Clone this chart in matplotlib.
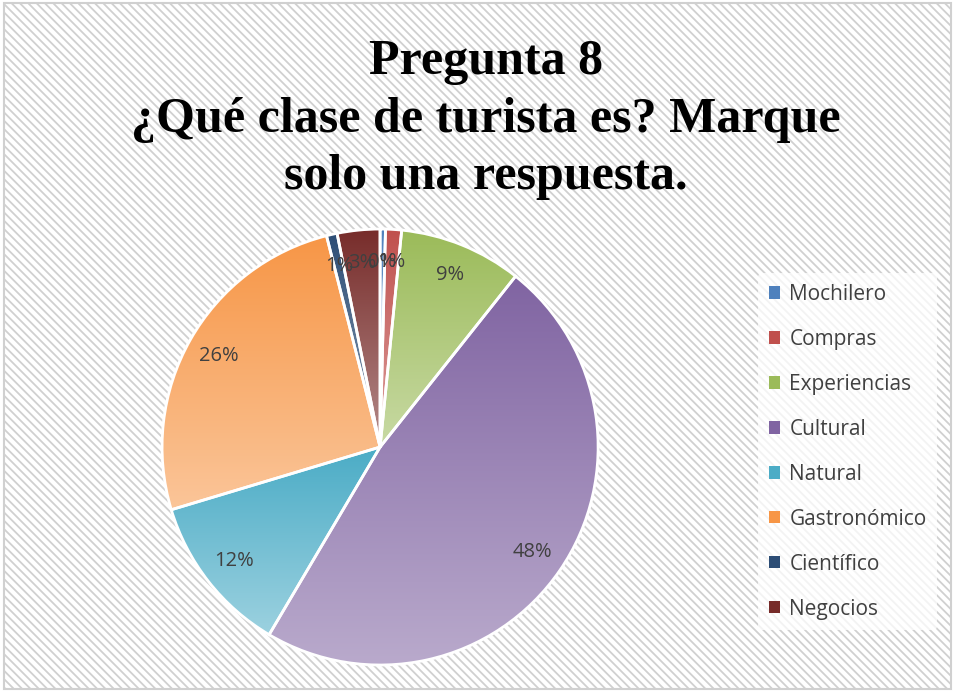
import numpy as np
import matplotlib
matplotlib.use("Agg")
import matplotlib.pyplot as plt
from matplotlib.patches import Rectangle, Patch
from matplotlib.colors import to_rgb

categorias = ["Mochilero", "Compras", "Experiencias", "Cultural",
              "Natural", "Gastronómico", "Científico", "Negocios"]
respuestas = [1, 3, 23, 121, 30, 65, 2, 8]
colores = ["#4F81BD", "#C0504D", "#9BBB59", "#8064A2",
           "#4BACC6", "#F79646", "#2C4D75", "#772C2A"]
titulo = "Pregunta 8\n¿Qué clase de turista es? Marque\nsolo una respuesta."

plt.rcParams["hatch.linewidth"] = 1.3
plt.rcParams["hatch.color"] = "#e2e2e2"

fig = plt.figure(figsize=(9.55, 6.92), dpi=100)
fig.patch.set_facecolor("white")
# fondo rayado con borde
fondo = Rectangle((0.004, 0.004), 0.992, 0.992, transform=fig.transFigure,
                  facecolor="white", edgecolor="#d0d0d0", hatch="\\\\\\\\",
                  linewidth=1.5, zorder=-5)
fig.patches.append(fondo)

fig.text(0.509, 0.943, titulo, ha="center", va="top", fontsize=36,
         fontweight="bold", family="Liberation Serif", linespacing=1.32)

ax = fig.add_axes([0.398 - 0.2283, 0.354 - 0.315, 0.4566, 0.630])
ax.set_facecolor("none")
ax.set_zorder(2)

wedges, textos, pcts = ax.pie(respuestas, colors=colores, startangle=90, counterclock=False,
                              autopct="%1.0f%%", pctdistance=0.85,
                              wedgeprops=dict(edgecolor="white", linewidth=2),
                              textprops=dict(color="#404040", fontsize=14.5, family="Open Sans"))
ax.set_aspect("equal")
ax.axis("off")

# degradado vertical dentro de cada porcion
for w, c in zip(wedges, colores):
    base = np.array(to_rgb(c))
    claro = base + (1 - base) * 0.45
    t = np.linspace(0, 1, 256)[:, None]
    grad = base[None, :] * (1 - t) + claro[None, :] * t
    img = np.repeat(grad[:, None, :], 2, axis=1)
    ext = w.get_path().get_extents(w.get_patch_transform())
    im = ax.imshow(img, extent=[ext.x0, ext.x1, ext.y0, ext.y1], origin="upper",
                   aspect="auto", zorder=w.get_zorder() - 0.1)
    im.set_clip_path(w)
    w.set_facecolor("none")
ax.set_xlim(-1, 1)
ax.set_ylim(-1, 1)

handles = [Patch(facecolor=c, edgecolor="none") for c in colores]
leg = fig.legend(handles, categorias, loc="upper left", bbox_to_anchor=(0.783, 0.62),
                 frameon=True, labelspacing=1.15, handlelength=0.55,
                 handleheight=0.55, handletextpad=0.45, borderpad=0.5,
                 prop=dict(family="Open Sans", size=15))
leg.get_frame().set_facecolor("white")
leg.get_frame().set_alpha(0.75)
leg.get_frame().set_edgecolor("none")
for t in leg.get_texts():
    t.set_color("#404040")

fig.savefig("out.png", dpi=100)
